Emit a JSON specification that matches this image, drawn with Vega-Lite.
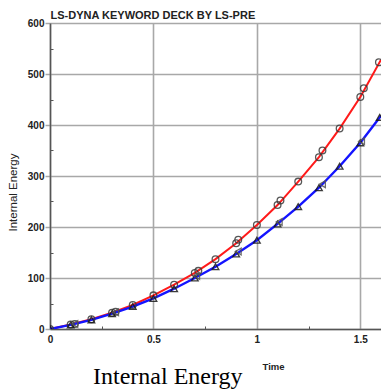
{
  "$schema": "https://vega.github.io/schema/vega-lite/v6.json",
  "width": 331,
  "height": 306,
  "autosize": {"type": "none"},
  "padding": {"left": 50, "top": 23, "right": 0, "bottom": 61},
  "background": "white",
  "config": {"view": {"stroke": null}},
  "title": {
    "text": "Internal Energy",
    "orient": "bottom",
    "anchor": "start",
    "frame": "group",
    "font": "Liberation Serif",
    "fontSize": 24,
    "fontWeight": "normal",
    "color": "black",
    "baseline": "alphabetic",
    "dx": 43,
    "offset": 13
  },
  "datasets": {
    "lines": [
      {"t": 0, "v": 0, "s": "red"}, {"t": 0.1, "v": 9, "s": "red"}, {"t": 0.2, "v": 19, "s": "red"},
      {"t": 0.3, "v": 32, "s": "red"}, {"t": 0.4, "v": 47, "s": "red"}, {"t": 0.5, "v": 66, "s": "red"},
      {"t": 0.6, "v": 87, "s": "red"}, {"t": 0.7, "v": 110, "s": "red"}, {"t": 0.8, "v": 137, "s": "red"},
      {"t": 0.9, "v": 168, "s": "red"}, {"t": 1.0, "v": 204, "s": "red"}, {"t": 1.1, "v": 243, "s": "red"},
      {"t": 1.2, "v": 289, "s": "red"}, {"t": 1.3, "v": 337, "s": "red"}, {"t": 1.4, "v": 393, "s": "red"},
      {"t": 1.5, "v": 455, "s": "red"}, {"t": 1.6, "v": 528, "s": "red"},
      {"t": 0, "v": 0, "s": "blue"}, {"t": 0.1, "v": 8, "s": "blue"}, {"t": 0.2, "v": 18, "s": "blue"},
      {"t": 0.3, "v": 30, "s": "blue"}, {"t": 0.4, "v": 44, "s": "blue"}, {"t": 0.5, "v": 60, "s": "blue"},
      {"t": 0.6, "v": 79, "s": "blue"}, {"t": 0.7, "v": 100, "s": "blue"}, {"t": 0.8, "v": 122, "s": "blue"},
      {"t": 0.9, "v": 147, "s": "blue"}, {"t": 1.0, "v": 174, "s": "blue"}, {"t": 1.1, "v": 206, "s": "blue"},
      {"t": 1.2, "v": 240, "s": "blue"}, {"t": 1.3, "v": 277, "s": "blue"}, {"t": 1.4, "v": 319, "s": "blue"},
      {"t": 1.5, "v": 365, "s": "blue"}, {"t": 1.6, "v": 418, "s": "blue"}
    ],
    "markers": [
      {"t": 0, "v": 0, "m": "circle"}, {"t": 0.1, "v": 9, "m": "circle"}, {"t": 0.2, "v": 19, "m": "circle"},
      {"t": 0.3, "v": 32, "m": "circle"}, {"t": 0.4, "v": 47, "m": "circle"}, {"t": 0.5, "v": 66, "m": "circle"},
      {"t": 0.6, "v": 87, "m": "circle"}, {"t": 0.7, "v": 110, "m": "circle"}, {"t": 0.8, "v": 137, "m": "circle"},
      {"t": 0.9, "v": 168, "m": "circle"}, {"t": 1.0, "v": 204, "m": "circle"}, {"t": 1.1, "v": 243, "m": "circle"},
      {"t": 1.2, "v": 289, "m": "circle"}, {"t": 1.3, "v": 337, "m": "circle"}, {"t": 1.4, "v": 393, "m": "circle"},
      {"t": 1.5, "v": 455, "m": "circle"}, {"t": 1.59, "v": 523, "m": "circle"},
      {"t": 0.12, "v": 10, "m": "circle"}, {"t": 0.317, "v": 34, "m": "circle"}, {"t": 0.717, "v": 114, "m": "circle"},
      {"t": 0.91, "v": 175, "m": "circle"}, {"t": 1.114, "v": 252, "m": "circle"}, {"t": 1.317, "v": 350, "m": "circle"},
      {"t": 1.517, "v": 472, "m": "circle"},
      {"t": 0, "v": 0, "m": "triangle"}, {"t": 0.1, "v": 8, "m": "triangle"}, {"t": 0.2, "v": 18, "m": "triangle"},
      {"t": 0.3, "v": 30, "m": "triangle"}, {"t": 0.4, "v": 44, "m": "triangle"}, {"t": 0.5, "v": 60, "m": "triangle"},
      {"t": 0.6, "v": 79, "m": "triangle"}, {"t": 0.7, "v": 100, "m": "triangle"}, {"t": 0.8, "v": 122, "m": "triangle"},
      {"t": 0.9, "v": 147, "m": "triangle"}, {"t": 1.0, "v": 174, "m": "triangle"}, {"t": 1.1, "v": 206, "m": "triangle"},
      {"t": 1.2, "v": 240, "m": "triangle"}, {"t": 1.3, "v": 277, "m": "triangle"}, {"t": 1.4, "v": 319, "m": "triangle"},
      {"t": 1.5, "v": 365, "m": "triangle"}, {"t": 1.594, "v": 415, "m": "triangle"},
      {"t": 0.12, "v": 10, "m": "cross"}, {"t": 0.317, "v": 33, "m": "cross"}, {"t": 0.709, "v": 104, "m": "cross"},
      {"t": 0.91, "v": 152, "m": "cross"}, {"t": 1.108, "v": 210, "m": "cross"}, {"t": 1.317, "v": 284, "m": "cross"},
      {"t": 1.506, "v": 368, "m": "cross"}
    ]
  },
  "resolve": {"axis": {"x": "independent", "y": "independent"}},
  "layer": [
    {
      "data": {"name": "lines"},
      "transform": [{"filter": "datum.s === 'red'"}],
      "mark": {"type": "line", "color": "#ff1a1a", "strokeWidth": 2, "clip": true},
      "encoding": {
        "x": {
          "field": "t", "type": "quantitative",
          "scale": {"domain": [0, 1.6], "nice": false, "zero": false},
          "axis": {
            "orient": "bottom", "values": [0, 0.5, 1, 1.5], "format": "~g",
            "grid": true, "gridColor": "#a8a8a8", "gridWidth": 1.6, "gridOpacity": 1,
            "domain": true, "domainColor": "#555555", "domainWidth": 1.5,
            "ticks": false, "labelPadding": 5,
            "labelFont": "Liberation Sans", "labelFontSize": 10, "labelFontWeight": "bold", "labelColor": "#222222",
            "labelFlush": false,
            "title": "Time", "titleFont": "Liberation Sans", "titleFontSize": 9.5, "titleFontWeight": "bold",
            "titleColor": "#222222", "titleX": 223, "titleY": 40, "titleBaseline": "alphabetic", "titleAlign": "center"
          }
        },
        "y": {
          "field": "v", "type": "quantitative",
          "scale": {"domain": [0, 600], "nice": false},
          "axis": {
            "orient": "left", "values": [0, 100, 200, 300, 400, 500, 600],
            "grid": true, "gridColor": "#a8a8a8", "gridWidth": 1.6, "gridOpacity": 1,
            "domain": true, "domainColor": "#555555", "domainWidth": 1.5,
            "ticks": true, "tickSize": 5, "tickColor": "#a8a8a8", "tickWidth": 1.5, "labelPadding": 1,
            "labelFont": "Liberation Sans", "labelFontSize": 10, "labelFontWeight": "bold", "labelColor": "#222222",
            "labelFlush": false,
            "title": "Internal Energy", "titleFont": "Liberation Sans", "titleFontSize": 11.5, "titleFontWeight": "normal",
            "titleColor": "#222222", "titleX": -37, "titleY": 169, "titleAngle": -90,
            "titleAlign": "center", "titleBaseline": "middle"
          }
        }
      }
    },
    {
      "data": {"name": "lines"},
      "transform": [{"filter": "datum.s === 'blue'"}],
      "mark": {"type": "line", "color": "#1414ff", "strokeWidth": 2.4, "clip": true},
      "encoding": {
        "x": {
          "field": "t", "type": "quantitative",
          "axis": {
            "orient": "bottom", "values": [0.25, 0.75, 1.25], "labels": false, "grid": false, "domain": false,
            "ticks": true, "tickSize": -3, "tickColor": "#555555", "tickWidth": 1, "title": null
          }
        },
        "y": {
          "field": "v", "type": "quantitative",
          "axis": {
            "orient": "left", "values": [50, 150, 250, 350, 450, 550], "labels": false, "grid": false, "domain": false,
            "ticks": true, "tickSize": -3, "tickColor": "#555555", "tickWidth": 1, "title": null
          }
        }
      }
    },
    {
      "data": {"name": "markers"},
      "mark": {"type": "point", "filled": false, "strokeWidth": 1.3, "size": 45, "clip": true, "opacity": 0.85},
      "encoding": {
        "x": {
          "field": "t", "type": "quantitative",
          "axis": {
            "orient": "top", "labels": false, "ticks": false, "grid": false, "domain": false,
            "title": "LS-DYNA KEYWORD DECK BY LS-PRE", "titleFont": "Liberation Sans", "titleFontSize": 11,
            "titleFontWeight": "bold", "titleColor": "#222222", "titleX": 0, "titleY": -4.5,
            "titleAlign": "left", "titleBaseline": "alphabetic", "titleAnchor": "start"
          }
        },
        "y": {"field": "v", "type": "quantitative", "axis": null},
        "shape": {
          "field": "m", "type": "nominal",
          "scale": {"domain": ["circle", "triangle", "cross"], "range": ["circle", "triangle-up", "triangle-left"]},
          "legend": null
        },
        "color": {
          "field": "m", "type": "nominal",
          "scale": {"domain": ["circle", "triangle", "cross"], "range": ["#3a3a3a", "#1a1a1a", "#555555"]},
          "legend": null
        }
      }
    }
  ]
}
